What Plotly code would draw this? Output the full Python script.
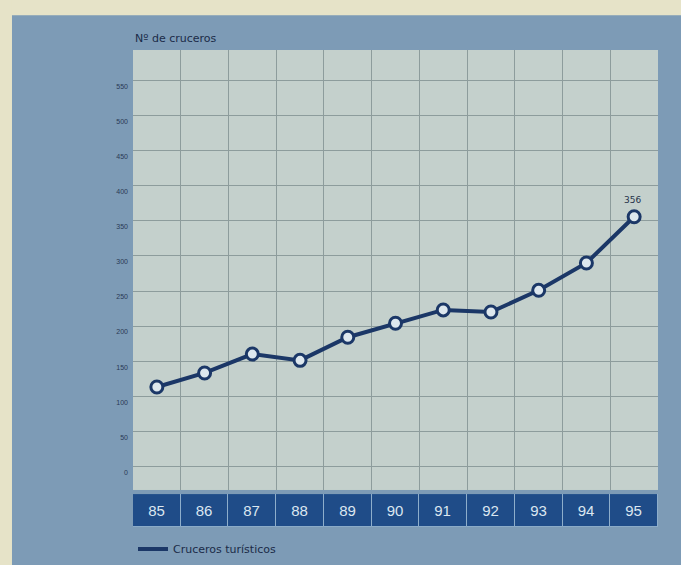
import plotly.graph_objects as go

years = [85, 86, 87, 88, 89, 90, 91, 92, 93, 94, 95]
year_labels = ["85", "86", "87", "88", "89", "90", "91", "92", "93", "94", "95"]
cruceros = [113, 133, 160, 151, 184, 204, 223, 220, 251, 290, 356]
ytick_vals = [0, 50, 100, 150, 200, 250, 300, 350, 400, 450, 500, 550]
ytick_text = [str(v) for v in ytick_vals]
series_name = "Cruceros turísticos"
y_title = "Nº de cruceros"

NAVY = "#1b3767"
fig = go.Figure()

fig.add_trace(go.Scatter(
    x=years, y=cruceros, mode="lines+markers", showlegend=False,
    line=dict(color=NAVY, width=4),
    marker=dict(size=12, color="#dde7ee", line=dict(color=NAVY, width=3)),
    xaxis="x", yaxis="y"))

# legend-only line
fig.add_trace(go.Scatter(
    x=[None], y=[None], mode="lines", name=series_name,
    line=dict(color=NAVY, width=4), xaxis="x", yaxis="y"))

# category band
fig.add_trace(go.Bar(
    x=years, y=[1] * len(years), text=year_labels, width=1,
    textposition="inside", insidetextanchor="middle",
    textfont=dict(color="#dbe6f0", size=15, family="Liberation Sans"),
    marker=dict(color="#1f4c88", line=dict(color="#8eaecb", width=1)),
    showlegend=False, hoverinfo="skip", xaxis="x2", yaxis="y2"))

fig.add_annotation(x=years[-1], y=cruceros[-1], text=str(cruceros[-1]),
                   showarrow=False, yshift=17, xshift=-2,
                   font=dict(size=9, color="#24324a", family="DejaVu Sans"))
fig.add_annotation(x=0, y=1.025, xref="paper", yref="paper", text=y_title,
                   showarrow=False, xanchor="left", yanchor="middle",
                   font=dict(size=11, color="#1b2b48", family="DejaVu Sans"))

# beige paper strips of the scan
fig.add_shape(type="rect", xref="paper", yref="paper", x0=-0.3, x1=1.1,
              y0=1.073, y1=1.2, fillcolor="#e6e3c8", line=dict(width=0), layer="below")
fig.add_shape(type="rect", xref="paper", yref="paper", x0=-0.3, x1=-0.2305,
              y0=-0.1, y1=1.2, fillcolor="#e6e3c8", line=dict(width=0), layer="below")

fig.update_layout(
    width=681, height=565,
    margin=dict(l=133, r=23, t=50, b=38, autoexpand=False),
    paper_bgcolor="#7d9bb6", plot_bgcolor="#c4d0cc",
    font=dict(family="Liberation Sans", color="#24324a"),
    xaxis=dict(domain=[0, 1], range=[84.5, 95.5], showticklabels=False,
               showgrid=False, zeroline=False, showline=False, ticks="",
               minor=dict(showgrid=True, tick0=84.5, dtick=1,
                          gridcolor="#8d9c9c", gridwidth=1, ticks=""),
               anchor="y"),
    yaxis=dict(domain=[0.0776, 1], range=[-34, 594], tickvals=ytick_vals,
               ticktext=ytick_text, showgrid=True, gridcolor="#8d9c9c",
               gridwidth=1, zeroline=False, ticks="",
               tickfont=dict(size=7, color="#2a3a55"), ticklabelshift=6,
               ticklabelstandoff=4, anchor="x"),
    xaxis2=dict(domain=[0, 1], range=[84.5, 95.5], showticklabels=False,
                showgrid=False, zeroline=False, anchor="y2", matches="x"),
    yaxis2=dict(domain=[0, 0.069], range=[0, 1], showticklabels=False,
                showgrid=False, zeroline=False, anchor="x2"),
    legend=dict(x=0.0, y=-0.046, xanchor="left", yanchor="middle",
                bgcolor="rgba(0,0,0,0)", itemwidth=30,
                font=dict(size=11, color="#1b2b48", family="DejaVu Sans")),
    bargap=0,
)

fig.write_html("out.html", config={"displayModeBar": False},
               post_script="document.body.style.margin='0';document.body.style.overflow='hidden';")
